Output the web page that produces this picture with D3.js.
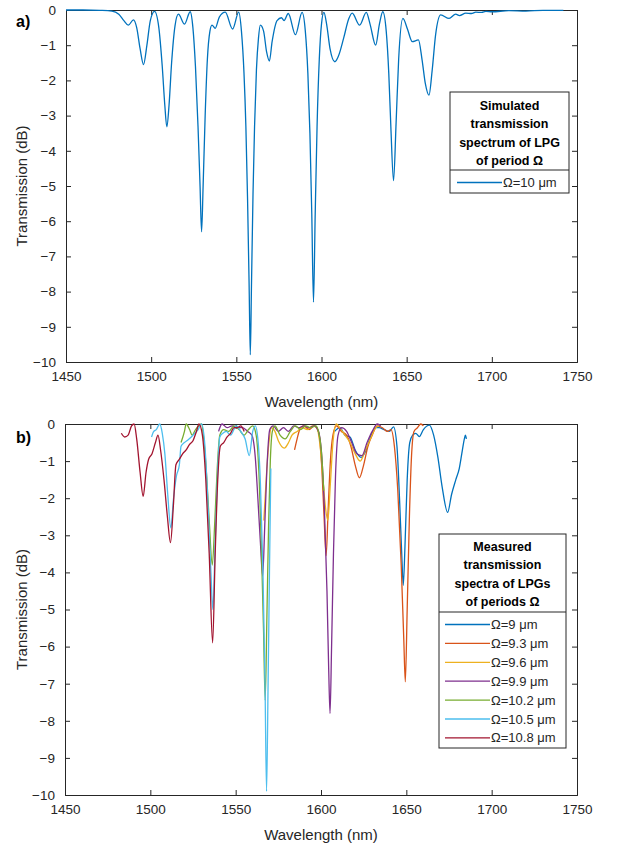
<!DOCTYPE html>
<html><head><meta charset="utf-8">
<script src="https://cdn.jsdelivr.net/npm/d3@7"></script>
<style>
html,body{margin:0;padding:0;background:#fff;}
svg{display:block;font-family:"Liberation Sans",Arial,sans-serif;}
</style></head>
<body>
<svg id="c" width="617" height="848"></svg>
<script>
// ---------- DATA ----------
const xTicks = [1450,1500,1550,1600,1650,1700,1750];
const yTicks = [0,-1,-2,-3,-4,-5,-6,-7,-8,-9,-10];

const simLabel = "Ω=10 μm";
const simTitle = ["Simulated","transmission","spectrum of LPG","of period Ω"];
const simulated = [
[1450,0],[1460,0],[1470,-0.01],[1477,-0.03],[1481,-0.12],[1484,-0.3],[1486.6,-0.43],[1489.6,-0.28],
[1491.5,-0.5],[1493.5,-1.1],[1495.5,-1.55],[1497.5,-1.0],[1499.5,-0.3],[1502,-0.04],[1504.5,-0.5],
[1506.5,-1.6],[1508,-2.7],[1509.2,-3.32],[1510.5,-2.7],[1512,-1.5],[1514,-0.45],[1516,-0.12],
[1519.6,-0.4],[1522.9,-0.05],[1524.5,-0.5],[1526,-1.6],[1527.5,-3.3],[1528.7,-5.0],[1529.6,-6.3],
[1530.5,-5.0],[1531.7,-3.0],[1533,-1.4],[1534.5,-0.6],[1535.7,-0.43],[1537.6,-0.52],[1540,-0.2],
[1543.5,-0.06],[1547.8,-0.54],[1551.4,-0.06],[1553,-0.6],[1554.5,-1.8],[1555.6,-3.3],[1556.6,-5.4],
[1557.5,-7.8],[1558.2,-9.8],[1558.9,-7.8],[1559.8,-5.2],[1560.7,-3.3],[1561.8,-1.7],[1563,-0.8],
[1564.1,-0.43],[1566,-0.6],[1567.8,-1.2],[1569.4,-1.45],[1571,-0.9],[1573.9,-0.3],[1576.5,-0.22],
[1578,-0.3],[1580.5,-0.1],[1584.7,-0.7],[1588.6,-0.07],[1590.5,-0.6],[1592,-1.8],[1593.2,-3.5],
[1594.3,-5.8],[1595.3,-8.3],[1596.3,-5.8],[1597.4,-3.3],[1598.7,-1.4],[1600,-0.4],[1601.4,-0.07],
[1603,-0.4],[1605,-1.1],[1607.8,-1.47],[1610,-1.3],[1613,-0.8],[1616,-0.25],[1618,-0.09],
[1622.4,-0.43],[1626.3,-0.07],[1628.5,-0.4],[1631.8,-1.0],[1634,-0.4],[1636,-0.05],[1638,-0.6],
[1639.5,-1.8],[1640.7,-3.3],[1642.3,-4.85],[1643.8,-3.2],[1645.3,-1.4],[1647.8,-0.24],[1650.5,-0.55],
[1653.3,-0.9],[1656.9,-0.85],[1659,-1.4],[1661,-2.1],[1663.1,-2.42],[1665,-1.7],[1667,-0.7],
[1670,-0.14],[1674.9,-0.24],[1678.8,-0.12],[1681,-0.16],[1684.7,-0.09],[1688,-0.1],[1690.6,-0.06],
[1694,-0.07],[1696.5,-0.04],[1700,-0.05],[1710,-0.02],[1720,-0.03],[1730,-0.01],[1742,-0.01]];

const measTitle = ["Measured","transmission","spectra of LPGs","of periods Ω"];
const measLabels = ["Ω=9 μm","Ω=9.3 μm","Ω=9.6 μm","Ω=9.9 μm","Ω=10.2 μm","Ω=10.5 μm","Ω=10.8 μm"];
const measColors = ["#0072BD","#D95319","#EDB120","#7E2F8E","#77AC30","#4DBEEE","#A2142F"];

const m90 = [[1608,-0.2],[1611,-0.1],[1614,-0.3],[1617,-0.35],[1620,-0.7],[1623.5,-0.9],[1626,-0.75],
[1629,-0.35],[1632,-0.1],[1634,-0.1],[1637,-0.15],[1640,-0.2],[1642.5,-0.08],[1644.5,-0.6],[1646,-2.0],
[1647.3,-3.5],[1648.2,-4.35],[1649.2,-3.3],[1650.5,-1.5],[1652,-0.5],[1653.7,-0.3],[1655.5,-0.25],
[1657.6,-0.34],[1660,-0.15],[1663.5,-0.03],[1666,-0.3],[1668.5,-0.9],[1671,-1.7],[1674.2,-2.38],
[1676.5,-1.9],[1679,-1.5],[1681,-1.2],[1682.5,-0.8],[1684,-0.4],[1684.6,-0.3],[1685.2,-0.4]];
const m93 = [[1584.5,-0.7],[1586,-0.4],[1588,-0.1],[1590,-0.05],[1593,-0.15],[1596,-0.05],[1598.5,-0.2],
[1600.5,-1.2],[1601.8,-2.5],[1603,-3.55],[1604.2,-2.3],[1605.5,-1.0],[1607,-0.3],[1609,-0.05],
[1612,-0.2],[1615,-0.3],[1617.5,-0.6],[1620,-1.1],[1622.5,-1.45],[1625,-1.1],[1627.5,-0.6],[1630,-0.3],
[1633,-0.05],[1636,-0.1],[1639,-0.2],[1641,-0.15],[1643,-0.6],[1645,-1.8],[1647,-3.8],[1648.5,-5.8],
[1649.4,-6.95],[1650.5,-5.0],[1651.8,-2.5],[1653,-0.9],[1654.5,-0.2],[1656.5,-0.1],[1658.5,0],[1660,-0.05]];
const m96 = [[1566.5,-2.6],[1568,-1.4],[1569.5,-0.5],[1571,-0.1],[1573,-0.2],[1575,-0.45],[1578.5,-0.65],
[1581,-0.5],[1583,-0.3],[1586,-0.2],[1589,-0.1],[1592,-0.15],[1595,-0.05],[1597.5,-0.1],[1599.5,-0.6],
[1601,-1.4],[1602.5,-2.2],[1604,-2.6],[1605.5,-1.6],[1607,-0.5],[1609,0],[1611,-0.1],[1614,-0.3],
[1617,-0.5],[1620,-0.8],[1623,-1.0],[1626,-0.7],[1629,-0.4],[1632,-0.1],[1634,-0.05]];
const m99 = [[1540,-0.2],[1542,0],[1545,-0.1],[1548,-0.05],[1551,-0.1],[1554,-0.1],[1557,-0.2],
[1559.5,-0.3],[1561.5,-0.9],[1563,-2.0],[1564.5,-3.2],[1565.8,-4.1],[1567,-2.8],[1568.3,-1.2],
[1570,-0.15],[1572,-0.05],[1575,-0.2],[1578,-0.1],[1581,-0.2],[1584,-0.05],[1587,-0.1],[1590,-0.05],
[1593,-0.1],[1596,-0.05],[1598.5,-0.2],[1600.5,-0.9],[1602,-2.3],[1603.5,-4.5],[1604.5,-6.6],
[1605.3,-7.8],[1606.2,-6.0],[1607.3,-3.5],[1608.5,-1.4],[1610,-0.3],[1612,-0.1],[1615,-0.2],
[1618,-0.5],[1621,-0.8],[1624,-0.85],[1627,-0.5],[1630,-0.2],[1633,0],[1635,-0.05]];
const m102 = [[1518,-0.5],[1520,-0.2],[1521,0],[1523,-0.15],[1524.5,-0.3],[1526.5,-0.15],[1528.5,-0.05],
[1530,0],[1531.5,-0.5],[1533,-1.4],[1534.5,-2.6],[1536.3,-3.8],[1537.8,-2.6],[1539.2,-1.2],[1540.7,-0.3],
[1543,-0.15],[1546,-0.2],[1549,-0.05],[1552,-0.15],[1555,-0.3],[1557.5,-0.15],[1560,-0.05],[1562,-0.3],
[1563.8,-1.5],[1565,-3.2],[1566.3,-5.5],[1567.3,-7.45],[1568.3,-5.2],[1569.3,-2.7],[1570.3,-1.0],
[1571.5,-0.2],[1573,-0.05],[1576,-0.3],[1579,-0.4],[1582,-0.2],[1585,-0.05],[1588,-0.15],[1591,-0.05],
[1594,-0.1],[1597,-0.05],[1599,-0.3],[1600.5,-0.9],[1601.6,-1.8]];
const m105 = [[1500.7,-0.35],[1502,-0.2],[1503.5,-0.15],[1505.5,0],[1507,-0.25],[1508.5,-0.8],
[1510.2,-1.9],[1512,-2.8],[1513.6,-2.0],[1515.3,-1.4],[1517,-1.1],[1518,-0.6],[1520,-0.5],[1522,-0.43],
[1524,-0.35],[1526,-0.25],[1528,-0.15],[1530,0],[1532,-0.6],[1533.8,-2.2],[1535.5,-4.0],[1536.6,-5.0],
[1538,-3.2],[1539.5,-1.2],[1540.7,-0.35],[1542.5,-0.25],[1544.5,-0.2],[1547,-0.3],[1550.4,-0.05],
[1553,-0.2],[1555.5,-0.4],[1558,-0.85],[1560,-0.2],[1561.5,-0.05],[1563,-0.4],[1564.5,-1.6],
[1566,-4.0],[1567.2,-7.0],[1568.1,-9.9],[1569,-7.0],[1569.8,-4.0],[1570.6,-1.2]];
const m108 = [[1483,-0.25],[1485,-0.35],[1487,-0.3],[1489,-0.05],[1490.5,0],[1492,-0.4],[1494,-1.3],
[1495.8,-1.95],[1497.5,-1.3],[1499,-0.95],[1501,-0.8],[1503,-0.5],[1504.5,-0.3],[1506,-0.7],[1508,-1.5],
[1510,-2.5],[1511.8,-3.2],[1513.5,-2.2],[1515,-1.1],[1517,-0.95],[1519,-0.8],[1521,-0.7],[1523,-0.55],
[1525,-0.45],[1527,-0.2],[1528.5,0],[1530.5,-0.3],[1532.5,-1.5],[1534.5,-3.5],[1536.5,-5.9],[1538,-3.5],
[1539.5,-1.5],[1541,-0.6],[1543,-0.5],[1545,-0.35],[1547,-0.25],[1549,-0.1],[1551,-0.1],[1553,-0.05],
[1555,-0.2]];
const measured = [m90,m93,m96,m99,m102,m105,m108];

// ---------- DRAW ----------
const svg = d3.select("#c");
const textCol = "#262626", axisCol = "#262626";

function panel(cfg){
  const {left,right,top,bottom} = cfg;
  const x = d3.scaleLinear().domain([1450,1750]).range([left,right]);
  const y = d3.scaleLinear().domain([-10,0]).range([bottom,top]);
  const g = svg.append("g");
  const fmt = d3.format("d");
  const ax = [
    [d3.axisBottom(x).tickValues(xTicks).tickSize(-5).tickPadding(9).tickFormat(fmt), `translate(0,${bottom})`, true],
    [d3.axisTop(x).tickValues(xTicks).tickSize(-5), `translate(0,${top})`, false],
    [d3.axisLeft(y).tickValues(yTicks).tickSize(-5).tickPadding(10).tickFormat(fmt), `translate(${left},0)`, true],
    [d3.axisRight(y).tickValues(yTicks).tickSize(-5), `translate(${right},0)`, false]
  ];
  ax.forEach(([a,t,lab])=>{
    const s = g.append("g").attr("transform",t).call(a);
    s.select(".domain").attr("stroke",axisCol).attr("stroke-width",1);
    s.selectAll(".tick line").attr("stroke",axisCol);
    s.selectAll("text").attr("fill",textCol).style("font-size","13.5px").style("font-family",'"Liberation Sans",Arial,sans-serif');
    if(!lab) s.selectAll("text").remove();
  });
  g.append("text").attr("x",(left+right)/2).attr("y",bottom+45).attr("text-anchor","middle")
    .attr("fill",textCol).style("font-size","15px").text("Wavelength (nm)");
  g.append("text").attr("transform",`translate(27,${(top+bottom)/2}) rotate(-90)`).attr("text-anchor","middle")
    .attr("fill",textCol).style("font-size","15px").text("Transmission (dB)");
  g.append("text").attr("x",16).attr("y",cfg.labY).attr("fill","#000").style("font-size","16px")
    .style("font-weight","bold").text(cfg.label);
  const clipId = "clip"+cfg.label.replace(")","");
  svg.append("clipPath").attr("id",clipId).append("rect")
    .attr("x",left).attr("y",top-2).attr("width",right-left).attr("height",bottom-top+4);
  const line = d3.line().x(d=>x(d[0])).y(d=>y(d[1])).curve(d3.curveMonotoneX);
  const lg = g.append("g").attr("clip-path",`url(#${clipId})`);
  cfg.series.forEach((s,i)=>{
    lg.append("path").datum(s).attr("d",line).attr("fill","none")
      .attr("stroke",cfg.colors[i]).attr("stroke-width",cfg.sw||1.3).attr("stroke-linejoin","round");
  });
  const L = cfg.legend;
  const lgd = g.append("g");
  lgd.append("rect").attr("x",L.x0).attr("y",L.y0).attr("width",L.x1-L.x0).attr("height",L.y1-L.y0)
    .attr("fill","#fff").attr("stroke",axisCol).attr("stroke-width",1);
  lgd.append("line").attr("x1",L.x0).attr("x2",L.x1).attr("y1",L.div).attr("y2",L.div).attr("stroke",axisCol);
  L.title.forEach((t,i)=>{
    lgd.append("text").attr("x",(L.x0+L.x1)/2).attr("y",L.ty0+i*L.tdy).attr("text-anchor","middle")
      .attr("fill","#000").style("font-size","12.5px").style("font-weight","bold").text(t);
  });
  L.labels.forEach((t,i)=>{
    const yy = L.ey0+i*L.edy;
    lgd.append("line").attr("x1",L.lx0).attr("x2",L.lx1).attr("y1",yy-4.5).attr("y2",yy-4.5)
      .attr("stroke",cfg.colors[i]).attr("stroke-width",1.3);
    lgd.append("text").attr("x",L.lx1+1).attr("y",yy).attr("fill",textCol).style("font-size","13px").text(t);
  });
}

panel({left:66,right:577,top:10,bottom:362,label:"a)",labY:27,series:[simulated],colors:[measColors[0]],sw:1.3,
  legend:{x0:450,x1:569,y0:92,y1:193,div:170,title:simTitle,ty0:110,tdy:18.3,labels:[simLabel],ey0:187,edy:19,lx0:457,lx1:502}});
panel({left:65,right:577,top:424,bottom:795,label:"b)",labY:443,series:measured,colors:measColors,sw:1.3,
  legend:{x0:439,x1:566,y0:534,y1:748,div:612,title:measTitle,ty0:551,tdy:18.4,labels:measLabels,ey0:629,edy:18.9,lx0:445,lx1:490}});
</script>
</body></html>
